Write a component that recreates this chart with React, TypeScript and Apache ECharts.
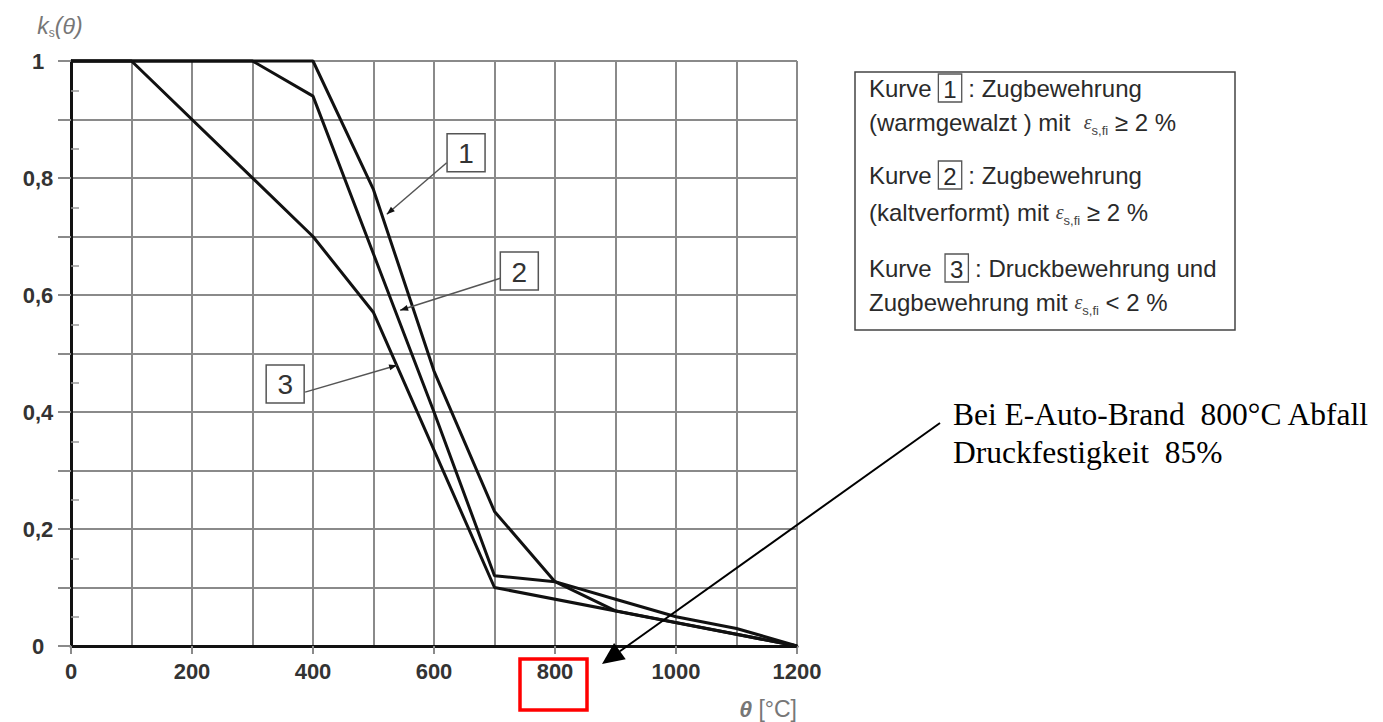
import React, { useEffect, useRef } from 'react';
import * as echarts from 'echarts';

// ---- data ----
const temperatures = [0, 100, 200, 300, 400, 500, 600, 700, 800, 900, 1000, 1100, 1200];
const kurve1 = [1, 1, 1, 1, 1, 0.78, 0.47, 0.23, 0.11, 0.06, 0.04, 0.02, 0];
const kurve2 = [1, 1, 1, 1, 0.94, 0.67, 0.4, 0.12, 0.11, 0.08, 0.05, 0.03, 0];
const kurve3Temps = [0, 100, 400, 500, 700, 1200];
const kurve3 = [1, 1, 0.7, 0.57, 0.1, 0];
const seriesNames = ['Kurve 1', 'Kurve 2', 'Kurve 3'];
const yTickLabels = ['0', '0,2', '0,4', '0,6', '0,8', '1'];
const highlightedTemp = 800;

const legendLines = [
  '{t|Kurve }{b|1}{t| : Zugbewehrung}',
  '{t|(warmgewalzt ) mit  }{e|ε}{s|s,fi}{t| ≥ 2 %}',
  '{t|Kurve }{b|2}{t| : Zugbewehrung}',
  '{t|(kaltverformt) mit }{e|ε}{s|s,fi}{t| ≥ 2 %}',
  '{t|Kurve  }{b|3}{t| : Druckbewehrung und}',
  '{t|Zugbewehrung mit }{e|ε}{s|s,fi}{t| < 2 %}',
];
const annotationText = 'Bei E-Auto-Brand  800°C Abfall\nDruckfestigkeit  85%';

// callout boxes (data units): label, box centre, leader start, leader tip
const callouts = [
  { label: '1', box: [653, 0.843], from: [621, 0.826], tip: [522, 0.738] },
  { label: '2', box: [741, 0.641], from: [711, 0.629], tip: [544, 0.574] },
  { label: '3', box: [354, 0.448], from: [387, 0.434], tip: [539, 0.48] },
];

const SANS = "'Liberation Sans', Arial, Helvetica, sans-serif";
const SERIF = "'Liberation Serif', 'Times New Roman', serif";
const GRID = '#8a8a8a';

function arrowHead(tip: number[], from: number[], len: number, half: number) {
  const dx = tip[0] - from[0];
  const dy = tip[1] - from[1];
  const l = Math.hypot(dx, dy) || 1;
  const ux = dx / l;
  const uy = dy / l;
  const bx = tip[0] - ux * len;
  const by = tip[1] - uy * len;
  return [
    [tip[0], tip[1]],
    [bx - uy * half, by + ux * half],
    [bx + uy * half, by - ux * half],
  ];
}

export default function App() {
  const ref = useRef<HTMLDivElement>(null);

  useEffect(() => {
    document.body.style.margin = '0';
    const el = ref.current;
    if (!el) return;
    const chart = echarts.init(el, null, { renderer: 'svg' });

    const lineStyle = { color: '#111', width: 3 };
    const option: any = {
      animation: false,
      backgroundColor: '#ffffff',
      grid: { left: 71, top: 61, width: 726, height: 585 },
      xAxis: {
        type: 'value',
        min: 0,
        max: 1200,
        interval: 200,
        name: '{i|θ} [°C]',
        nameLocation: 'end',
        nameGap: 0,
        nameTextStyle: {
          align: 'right',
          verticalAlign: 'top',
          padding: [51, 0, 0, 0],
          color: '#777',
          fontSize: 23,
          fontFamily: SANS,
          rich: { i: { fontStyle: 'italic', fontWeight: 'bold', fontSize: 23, color: '#777', fontFamily: SANS } },
        },
        axisLine: { show: true, onZero: false, lineStyle: { color: '#111', width: 3 } },
        axisTick: { show: true, length: 8, lineStyle: { color: GRID, width: 2 } },
        axisLabel: {
          margin: 14,
          fontSize: 22,
          fontWeight: 'bold',
          color: '#333',
          fontFamily: SANS,
          formatter: (v: number) => String(v),
        },
        splitLine: { show: true, lineStyle: { color: GRID, width: 2 } },
        minorTick: { show: false, splitNumber: 2 },
        minorSplitLine: { show: true, lineStyle: { color: GRID, width: 2 } },
      },
      yAxis: {
        type: 'value',
        min: 0,
        max: 1,
        interval: 0.1,
        name: '{k|k}{s|s}{k|(θ)}',
        nameLocation: 'end',
        nameGap: 35,
        nameTextStyle: {
          align: 'center',
          verticalAlign: 'middle',
          padding: [0, 22, 0, 0],
          color: '#777',
          fontSize: 23,
          fontFamily: SANS,
          rich: {
            k: { fontStyle: 'italic', fontSize: 23, color: '#777', fontFamily: SANS, lineHeight: 26 },
            s: { fontSize: 12, color: '#777', fontFamily: SANS, verticalAlign: 'bottom', lineHeight: 14 },
          },
        },
        axisLine: { show: true, onZero: false, lineStyle: { color: '#111', width: 3 } },
        axisTick: { show: true, length: 13, lineStyle: { color: GRID, width: 2 } },
        minorTick: { show: true, splitNumber: 2, length: -8, lineStyle: { color: '#999', width: 1.5 } },
        axisLabel: {
          margin: 33,
          align: 'center',
          fontSize: 22,
          fontWeight: 'bold',
          color: '#333',
          fontFamily: SANS,
          formatter: (v: number) => {
            const t = Math.round(v * 10);
            return t % 2 === 0 ? yTickLabels[t / 2] : '';
          },
        },
        splitLine: { show: true, lineStyle: { color: GRID, width: 2 } },
      },
      series: [
        {
          name: seriesNames[0],
          type: 'line',
          data: temperatures.map((t, i) => [t, kurve1[i]]),
          symbol: 'none',
          clip: false,
          lineStyle,
          z: 5,
        },
        {
          name: seriesNames[1],
          type: 'line',
          data: temperatures.map((t, i) => [t, kurve2[i]]),
          symbol: 'none',
          clip: false,
          lineStyle,
          z: 5,
        },
        {
          name: seriesNames[2],
          type: 'line',
          data: kurve3Temps.map((t, i) => [t, kurve3[i]]),
          symbol: 'none',
          clip: false,
          lineStyle,
          z: 5,
        },
      ],
    };
    chart.setOption(option);

    const toPx = (p: number[]) => chart.convertToPixel({ gridIndex: 0 }, p) as number[];
    const graphics: any[] = [];

    // callout boxes
    callouts.forEach((c) => {
      const b = toPx(c.box);
      const f = toPx(c.from);
      const t = toPx(c.tip);
      graphics.push({
        type: 'line',
        z: 20,
        shape: { x1: f[0], y1: f[1], x2: t[0], y2: t[1] },
        style: { stroke: '#555', lineWidth: 1.5 },
      });
      graphics.push({
        type: 'polygon',
        z: 21,
        shape: { points: arrowHead(t, f, 8, 3) },
        style: { fill: '#111' },
      });
      graphics.push({
        type: 'rect',
        z: 20,
        shape: { x: b[0] - 19, y: b[1] - 19, width: 38, height: 38 },
        style: { fill: '#fff', stroke: '#555', lineWidth: 1.5 },
      });
      graphics.push({
        type: 'text',
        z: 21,
        x: b[0],
        y: b[1] + 1,
        style: {
          text: c.label,
          fontSize: 28,
          fontFamily: SANS,
          fill: '#333',
          align: 'center',
          verticalAlign: 'middle',
        },
      });
    });

    // legend box
    graphics.push({
      type: 'rect',
      z: 10,
      shape: { x: 855, y: 72, width: 380, height: 258 },
      style: { fill: '#fff', stroke: '#444', lineWidth: 1.5 },
    });
    const rich = {
      t: { fontSize: 24, fontFamily: SANS, fill: '#2a2a2a', lineHeight: 30 },
      b: {
        fontSize: 24,
        fontFamily: SANS,
        fill: '#2a2a2a',
        borderColor: '#555',
        borderWidth: 1.3,
        padding: [3, 5, 1, 5],
        lineHeight: 25,
      },
      e: { fontSize: 20, fontFamily: SERIF, fontStyle: 'italic', fill: '#444', lineHeight: 30 },
      s: { fontSize: 13, fontFamily: SANS, fill: '#444', verticalAlign: 'bottom', lineHeight: 13 },
    };
    const legendY = [88, 122, 175, 212, 268, 302];
    legendLines.forEach((txt, i) => {
      graphics.push({
        type: 'text',
        z: 11,
        x: 869,
        y: legendY[i],
        style: { text: txt, rich, align: 'left', verticalAlign: 'middle' },
      });
    });

    // highlight of the 800 label
    const p800 = toPx([highlightedTemp, 0]);
    graphics.push({
      type: 'rect',
      z: 30,
      shape: { x: p800[0] - 35, y: p800[1] + 13, width: 67, height: 51 },
      style: { fill: 'none', stroke: '#ff0000', lineWidth: 3.5 },
    });

    // big annotation arrow + text
    const arrowFrom = [940, 423];
    const arrowTip = [602, 664];
    const head = arrowHead(arrowTip, arrowFrom, 22, 10);
    const baseX = (head[1][0] + head[2][0]) / 2;
    const baseY = (head[1][1] + head[2][1]) / 2;
    graphics.push({
      type: 'line',
      z: 30,
      shape: { x1: arrowFrom[0], y1: arrowFrom[1], x2: baseX, y2: baseY },
      style: { stroke: '#000', lineWidth: 2 },
    });
    graphics.push({
      type: 'polygon',
      z: 31,
      shape: { points: head },
      style: { fill: '#000' },
    });
    graphics.push({
      type: 'text',
      z: 30,
      x: 953,
      y: 395,
      style: {
        text: annotationText,
        fontSize: 31.5,
        fontFamily: SERIF,
        fill: '#000',
        lineHeight: 38.5,
        align: 'left',
        verticalAlign: 'top',
      },
    });

    chart.setOption({ graphic: graphics });

    return () => {
      chart.dispose();
    };
  }, []);

  return <div ref={ref} style={{ width: 1383, height: 722 }} />;
}
